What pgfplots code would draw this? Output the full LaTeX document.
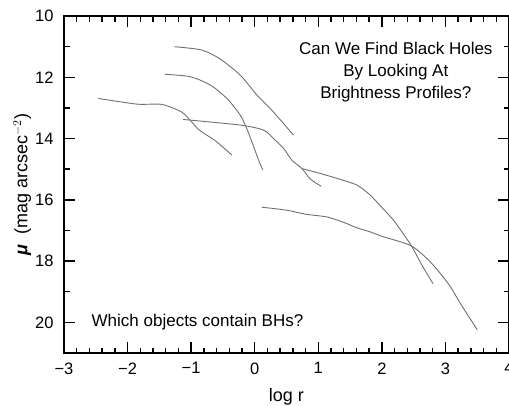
\documentclass[border=0pt]{standalone}
\usepackage{fontspec}
\setmainfont{Liberation Sans}
\usepackage{pgfplots}
\pgfplotsset{compat=1.18}
\definecolor{curve}{RGB}{112,112,112}
\tikzset{crv/.style={curve, line width=0.9pt, smooth, tension=0.45}}
\begin{document}
\begin{tikzpicture}
\useasboundingbox (0,0) rectangle (509pt,405pt);
\begin{axis}[
  at={(64pt,52pt)}, anchor=south west,
  scale only axis, width=445pt, height=337pt,
  xmin=-3, xmax=4, ymin=10, ymax=21, y dir=reverse,
  xtick={-3,-2,-1,0,1,2,3,4},
  xticklabels={−3,−2,−1,0,1,2,3,4},
  ytick={10,12,14,16,18,20},
  yticklabels={10,12,14,16,18,20},
  minor x tick num=4, minor y tick num=1,
  tick align=inside,
  major tick length=11pt, minor tick length=5.5pt,
  axis line style={line width=1.6pt},
  every tick/.style={black, line width=1.4pt},
  ticklabel style={font=\fontsize{16.5}{19}\selectfont},
  xticklabel style={yshift=-6pt},
  yticklabel style={xshift=-7pt},
  xlabel={log r},
  ylabel={{\bfseries\itshape μ}\ \ (mag arcsec$^{-2}$)},
  label style={font=\fontsize{18}{21}\selectfont},
  xlabel style={at={(axis description cs:0.5,-0.13)}, anchor=center},
  ylabel style={at={(axis description cs:-0.094,0.5)}, anchor=center, rotate=0},
  clip=false,
]
\addplot[crv] coordinates {
(-2.46,12.69) (-1.855,12.876) (-1.461,12.886) (-1.157,13.127) (-1.016,13.40) (-0.890,13.69) (-0.753,13.89) (-0.595,14.11) (-0.359,14.54)};
\addplot[crv] coordinates {
(-1.263,11.003) (-0.832,11.11) (-0.543,11.405) (-0.228,11.93) (0.035,12.58) (0.244,13.02) (0.428,13.45) (0.611,13.89)};
\addplot[crv] coordinates {
(-1.409,11.905) (-1.016,11.98) (-0.701,12.25) (-0.438,12.69) (-0.228,13.235) (-0.12,13.70) (-0.019,14.25) (0.060,14.70) (0.129,15.03)};
\addplot[crv] coordinates {
(-1.131,13.376) (-0.228,13.56) (0.139,13.725) (0.296,14.0) (0.453,14.32) (0.586,14.71) (0.743,14.98) (0.874,15.32) (1.047,15.56)};
\addplot[crv] coordinates {
(0.743,14.98) (1.031,15.14) (1.294,15.30) (1.609,15.52) (1.819,15.85) (2.00,16.25) (2.186,16.67) (2.37,17.21) (2.476,17.54) (2.633,18.14) (2.806,18.74)};
\addplot[crv] coordinates {
(0.11,16.24) (0.507,16.34) (0.80,16.47) (1.137,16.56) (1.43,16.76) (1.59,16.90) (1.82,17.05) (2.028,17.21) (2.46,17.50) (2.764,18.03) (3.05,18.75) (3.24,19.40) (3.50,20.24)};
\node[anchor=base, font=\fontsize{17}{20}\selectfont] at (axis cs:2.22,11.27) {Can We Find Black Holes};
\node[anchor=base, font=\fontsize{17}{20}\selectfont] at (axis cs:2.22,11.97) {By Looking At};
\node[anchor=base, font=\fontsize{17}{20}\selectfont] at (axis cs:2.22,12.68) {Brightness Profiles?};
\node[anchor=west, font=\fontsize{17}{20}\selectfont] at (axis cs:-2.62,20) {Which objects contain BHs?};
\end{axis}
\end{tikzpicture}
\end{document}
